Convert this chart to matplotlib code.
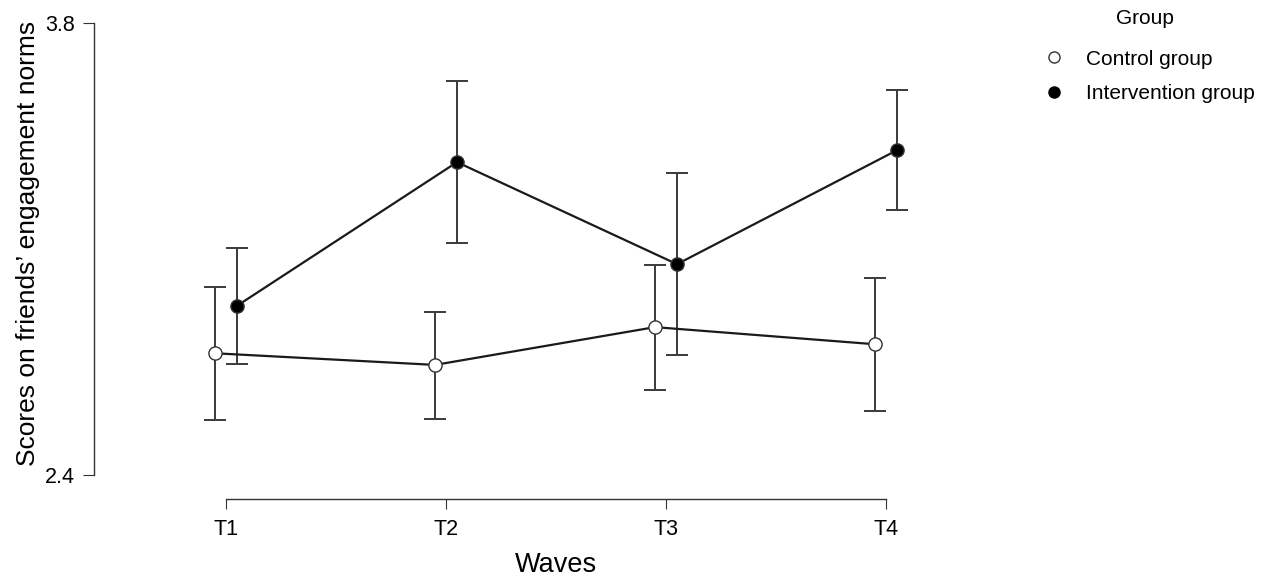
import matplotlib
matplotlib.use("Agg")
import matplotlib.pyplot as plt
from matplotlib.lines import Line2D
import numpy as np

plt.rcParams['font.family'] = ['Liberation Sans', 'DejaVu Sans']

# data
waves = ["T1", "T2", "T3", "T4"]
control_mean = [2.777, 2.741, 2.858, 2.805]
control_low = [2.570, 2.573, 2.664, 2.598]
control_high = [2.983, 2.906, 3.050, 3.009]
interv_mean = [2.924, 3.369, 3.053, 3.406]
interv_low = [2.744, 3.118, 2.772, 3.220]
interv_high = [3.102, 3.620, 3.335, 3.592]

W, H = 1272, 584
fig = plt.figure(figsize=(W / 100, H / 100), dpi=100)
ax = fig.add_axes([94 / W, 1 - 475 / H, (930 - 94) / W, (475 - 23) / H])

x = np.arange(1, len(waves) + 1)
dodge = 0.05
err_col = "#3a3a3a"


def draw(xs, mean, low, high, face):
    mean = np.array(mean)
    yerr = [mean - np.array(low), np.array(high) - mean]
    ax.errorbar(xs, mean, yerr=yerr, fmt="none", ecolor=err_col,
                elinewidth=1.4, capsize=8, capthick=1.4, zorder=2)
    ax.plot(xs, mean, color="#1a1a1a", lw=1.6, zorder=3)
    ax.plot(xs, mean, "o", ms=9.5, mfc=face, mec="#333333", mew=1.0, zorder=4)


draw(x - dodge, control_mean, control_low, control_high, "white")
draw(x + dodge, interv_mean, interv_low, interv_high, "black")

ax.set_xlim(0.4, 4.2)
ax.set_ylim(2.4, 3.8)
ax.set_xticks(x)
ax.set_xticklabels(waves)
ax.set_yticks([2.4, 3.8])
ax.set_yticklabels(["2.4", "3.8"])

for s in ["top", "right"]:
    ax.spines[s].set_visible(False)
ax.spines["left"].set_bounds(2.4, 3.8)
ax.spines["bottom"].set_bounds(1, 4)
ax.spines["bottom"].set_position(("outward", 17.3))
for s in ["left", "bottom"]:
    ax.spines[s].set_linewidth(1.0)
    ax.spines[s].set_color("#333333")

ax.tick_params(axis="y", length=8, width=0.8, colors="#333333", labelcolor="black",
               labelsize=15.5, pad=6)
ax.tick_params(axis="x", length=7, width=0.8, colors="#333333", labelcolor="black",
               labelsize=15.5, pad=7.5)

ax.set_xlabel("Waves", fontsize=19.5)
ax.xaxis.set_label_coords((2.5 - 0.4) / 3.8, -0.20)
ax.xaxis.label.set_va("center")
ax.set_ylabel("Scores on friends\u2019 engagement norms", fontsize=19)
ax.yaxis.set_label_coords((28 - 94) / 836, (475 - 243) / 452)
ax.yaxis.label.set_va("center")

# legend: title placed on its own, entries below
fig.text(1145 / W, 1 - 18 / H, "Group", ha="center", va="center", fontsize=15)
handles = [
    Line2D([], [], ls="none", marker="o", ms=8, mfc="white", mec="#333333", mew=1.0),
    Line2D([], [], ls="none", marker="o", ms=8, mfc="black", mec="black", mew=1.0),
]
leg = fig.legend(handles, ["Control group", "Intervention group"],
                 loc="upper left", bbox_to_anchor=(1023 / W, 1 - 31 / H), frameon=False,
                 fontsize=15, handlelength=1.2, handletextpad=0.9,
                 labelspacing=0.75)

fig.savefig("out.png", dpi=100)
